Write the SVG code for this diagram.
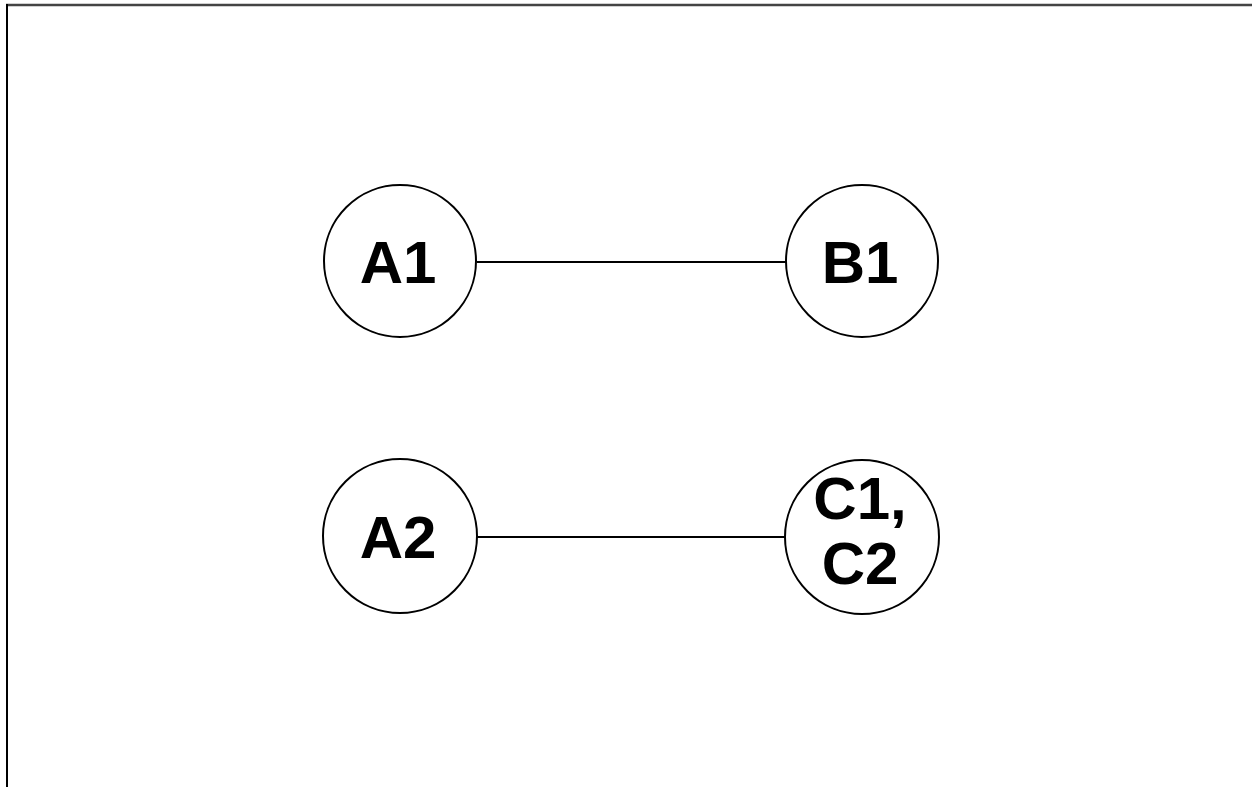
<svg xmlns="http://www.w3.org/2000/svg" width="1252" height="787" viewBox="0 0 1252 787">
  <style>
    .node circle { fill: #ffffff; stroke: #000000; stroke-width: 2; }
    .node text { font-family: "Liberation Sans", Arial, sans-serif; font-weight: bold; font-size: 60px; fill: #000000; text-anchor: middle; }
    .edge { stroke: #000000; stroke-width: 2; fill: none; }
  </style>
  <rect x="0" y="0" width="1252" height="787" fill="#ffffff"/>
  <!-- frame -->
  <line x1="6" y1="5" x2="1252" y2="5" stroke="#444444" stroke-width="2.5"/>
  <line x1="7" y1="4" x2="7" y2="787" stroke="#000000" stroke-width="2"/>
  <g id="connectors">
    <line class="edge" x1="477" y1="262" x2="786" y2="262"/>
    <line class="edge" x1="477" y1="537" x2="786" y2="537"/>
  </g>
  <g id="A1" class="node">
    <circle cx="400" cy="261" r="76"/>
    <text x="398" y="283">A1</text>
  </g>
  <g id="B1" class="node">
    <circle cx="862" cy="261" r="76"/>
    <text x="860" y="283">B1</text>
  </g>
  <g id="A2" class="node">
    <circle cx="400" cy="536" r="77"/>
    <text x="398" y="558">A2</text>
  </g>
  <g id="C1C2" class="node">
    <circle cx="862" cy="537" r="77"/>
    <text x="860" y="519">C1,</text>
    <text x="860" y="584">C2</text>
  </g>
</svg>
